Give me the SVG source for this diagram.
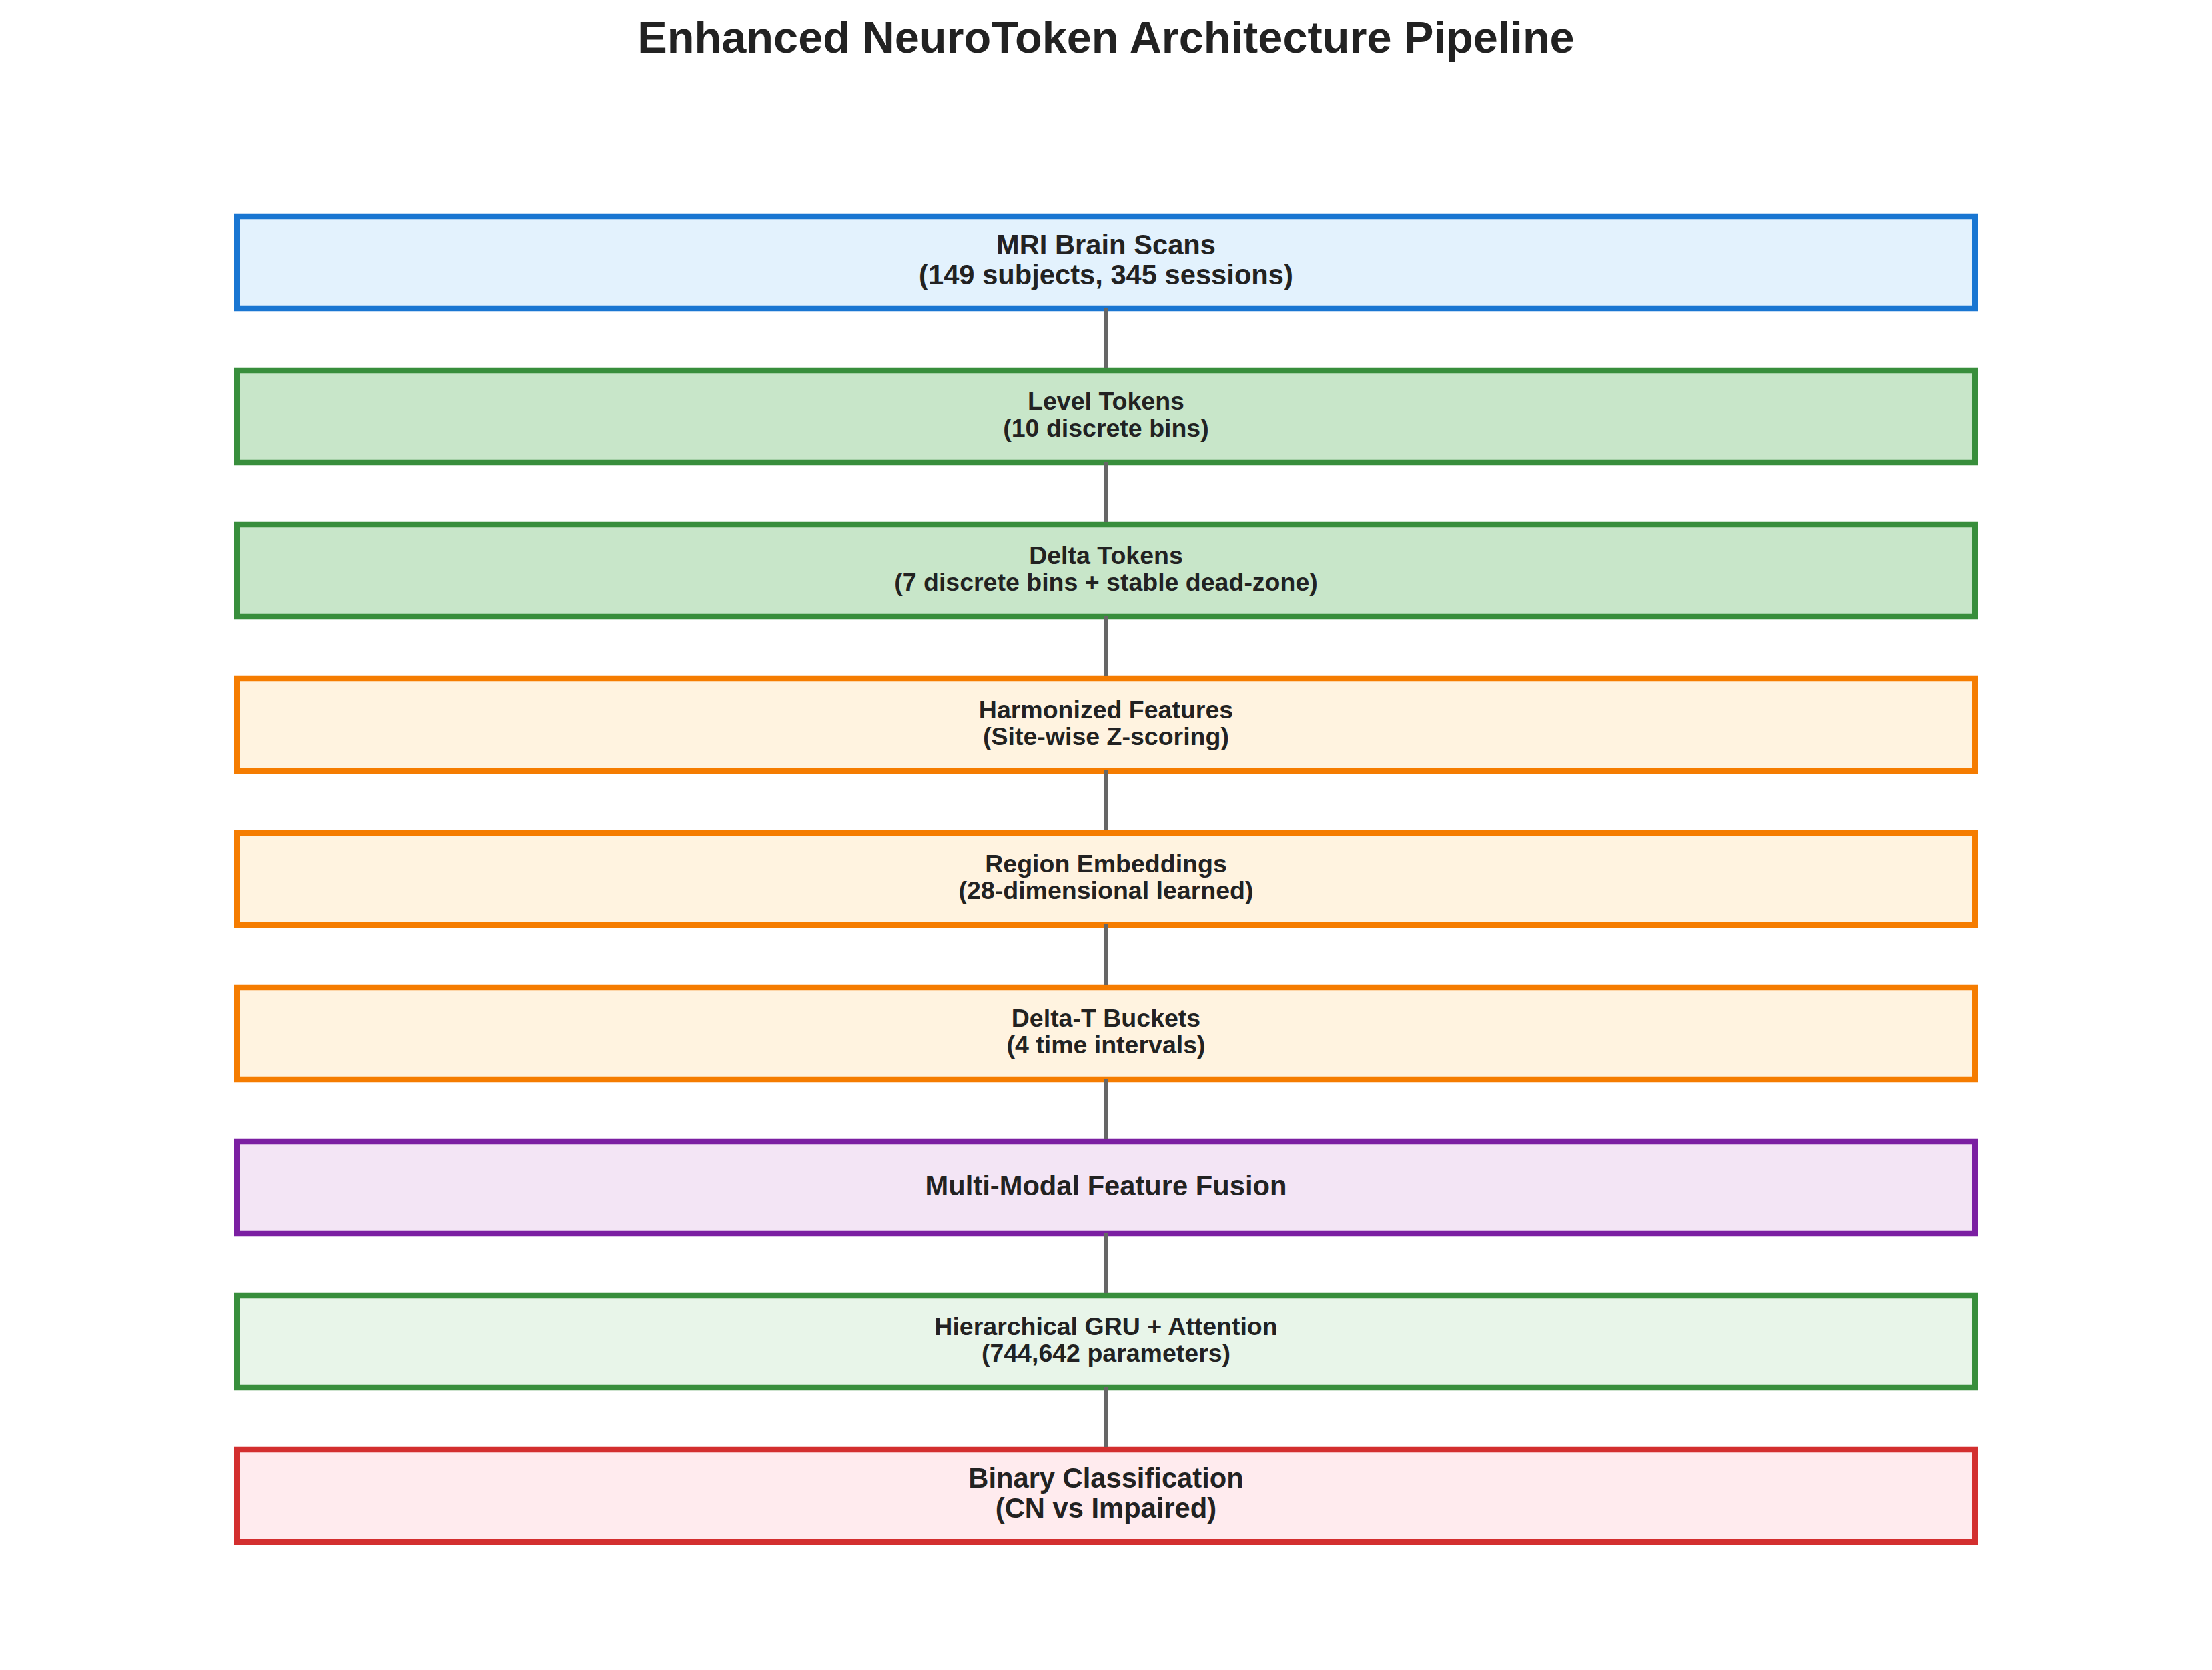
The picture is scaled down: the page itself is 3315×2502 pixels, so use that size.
<svg xmlns="http://www.w3.org/2000/svg" width="3315" height="2502" viewBox="0 0 3315 2502">
<style>
text{font-family:"Liberation Sans",Arial,sans-serif;font-weight:bold;fill:#222222;text-anchor:middle}
.t{font-size:66.7px}
.l{font-size:41.7px}
.s{font-size:37.5px}
rect{stroke-width:8.5}
.blue{fill:#E3F2FD;stroke:#1976D2}
.green{fill:#C8E6C9;stroke:#388E3C}
.orange{fill:#FFF3E0;stroke:#F57C00}
.purple{fill:#F3E5F5;stroke:#7B1FA2}
.lgreen{fill:#E8F5E9;stroke:#388E3C}
.red{fill:#FFEBEE;stroke:#D32F2F}
.c line{stroke:#666666;stroke-width:6.5}
</style>
<rect width="3315" height="2502" fill="#ffffff" style="stroke:none"/>
<text class="t" x="1657.5" y="79">Enhanced NeuroToken Architecture Pipeline</text>
<g id="n1"><rect class="blue" x="355" y="324" width="2605" height="138"/><text class="l" x="1657.5" y="380.5">MRI Brain Scans</text><text class="l" x="1657.5" y="426">(149 subjects, 345 sessions)</text></g>
<g id="n2"><rect class="green" x="355" y="555" width="2605" height="138"/><text class="s" x="1657.5" y="614">Level Tokens</text><text class="s" x="1657.5" y="654">(10 discrete bins)</text></g>
<g id="n3"><rect class="green" x="355" y="786" width="2605" height="138"/><text class="s" x="1657.5" y="845">Delta Tokens</text><text class="s" x="1657.5" y="885">(7 discrete bins + stable dead-zone)</text></g>
<g id="n4"><rect class="orange" x="355" y="1017" width="2605" height="138"/><text class="s" x="1657.5" y="1076">Harmonized Features</text><text class="s" x="1657.5" y="1116">(Site-wise Z-scoring)</text></g>
<g id="n5"><rect class="orange" x="355" y="1248" width="2605" height="138"/><text class="s" x="1657.5" y="1307">Region Embeddings</text><text class="s" x="1657.5" y="1347">(28-dimensional learned)</text></g>
<g id="n6"><rect class="orange" x="355" y="1479" width="2605" height="138"/><text class="s" x="1657.5" y="1538">Delta-T Buckets</text><text class="s" x="1657.5" y="1578">(4 time intervals)</text></g>
<g id="n7"><rect class="purple" x="355" y="1710" width="2605" height="138"/><text class="l" x="1657.5" y="1791">Multi-Modal Feature Fusion</text></g>
<g id="n8"><rect class="lgreen" x="355" y="1941" width="2605" height="138"/><text class="s" x="1657.5" y="2000">Hierarchical GRU + Attention</text><text class="s" x="1657.5" y="2040">(744,642 parameters)</text></g>
<g id="n9"><rect class="red" x="355" y="2172" width="2605" height="138"/><text class="l" x="1657.5" y="2228.5">Binary Classification</text><text class="l" x="1657.5" y="2274">(CN vs Impaired)</text></g>
<g id="connectors" class="c">
<line x1="1657.5" y1="461" x2="1657.5" y2="551"/>
<line x1="1657.5" y1="692" x2="1657.5" y2="782"/>
<line x1="1657.5" y1="923" x2="1657.5" y2="1013"/>
<line x1="1657.5" y1="1154" x2="1657.5" y2="1244"/>
<line x1="1657.5" y1="1385" x2="1657.5" y2="1475"/>
<line x1="1657.5" y1="1616" x2="1657.5" y2="1706"/>
<line x1="1657.5" y1="1847" x2="1657.5" y2="1937"/>
<line x1="1657.5" y1="2078" x2="1657.5" y2="2168"/>
</g>
</svg>
